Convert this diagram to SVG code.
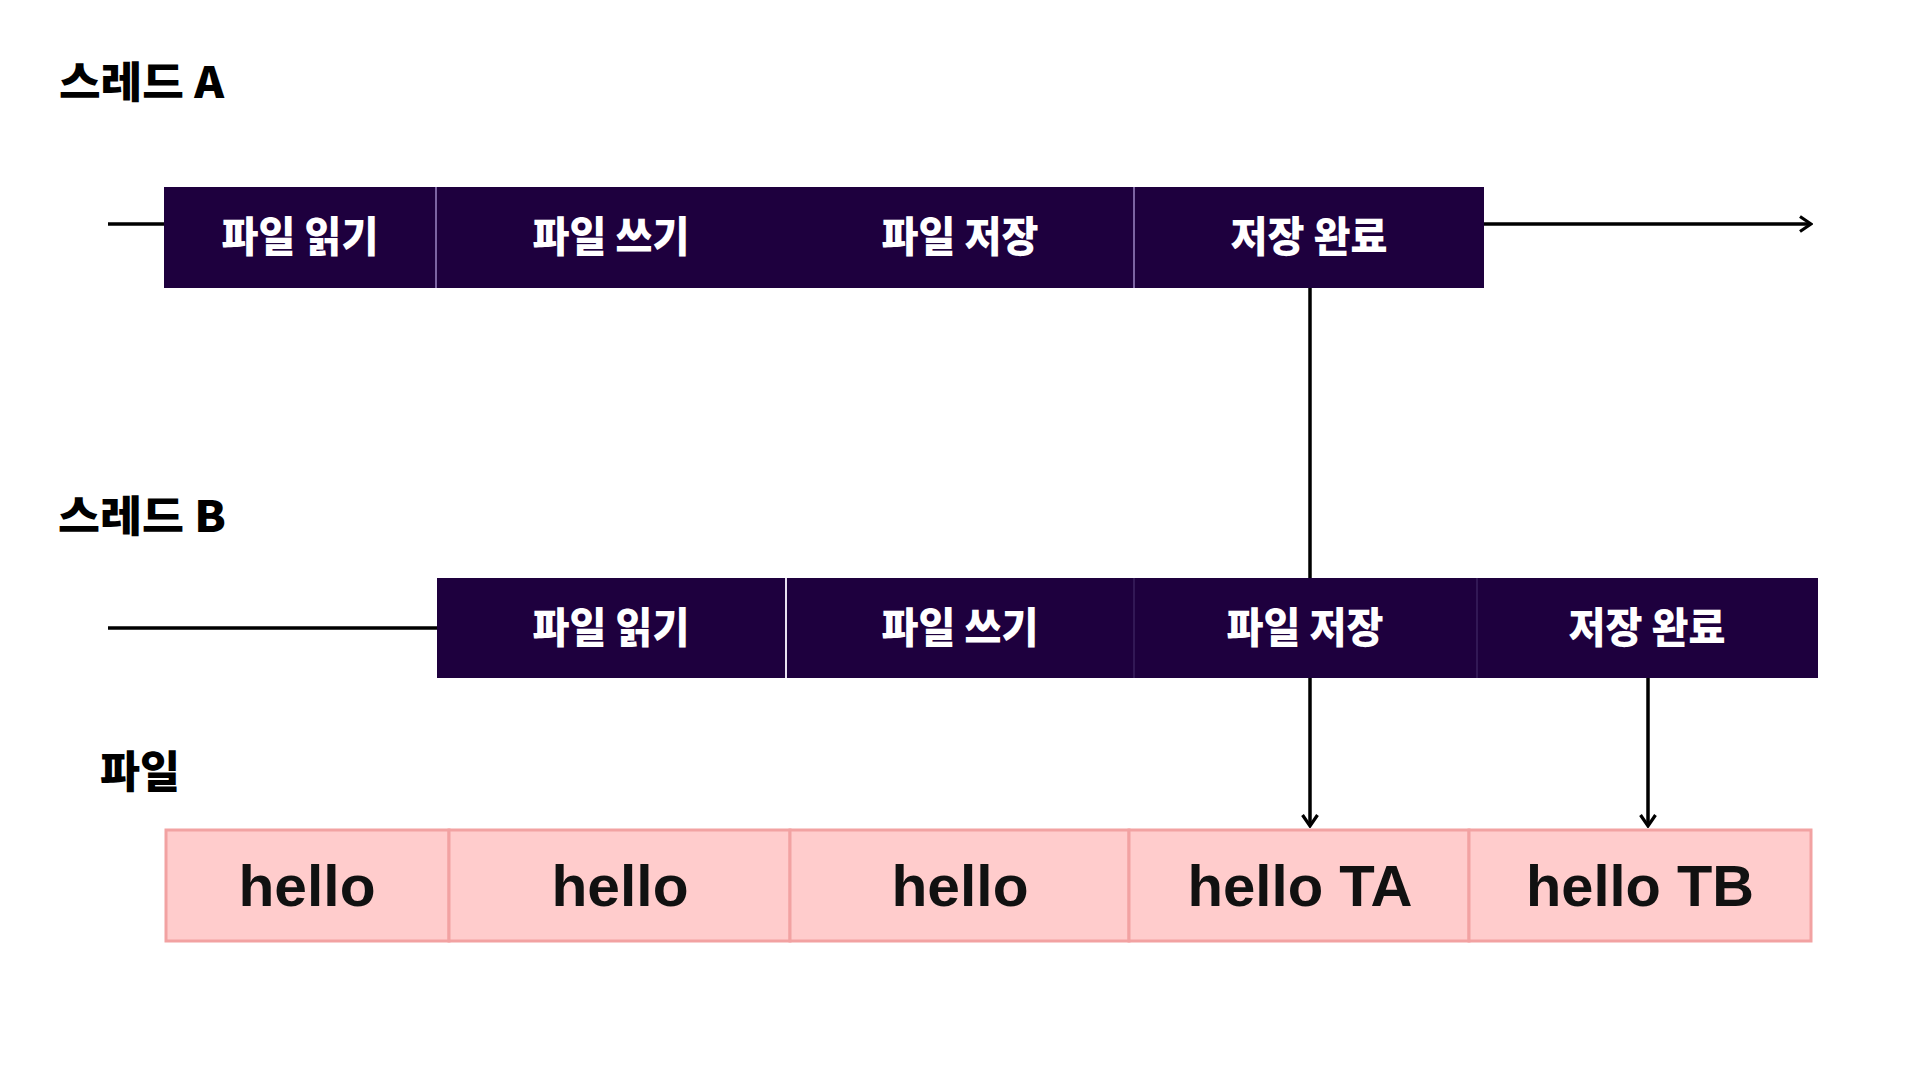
<svg xmlns="http://www.w3.org/2000/svg" width="1920" height="1080" viewBox="0 0 1920 1080">
<style>
.bg{fill:#ffffff}
.head{font-family:"Noto Sans CJK KR","Liberation Sans",sans-serif;font-weight:900;font-size:43px;fill:#000}
.cell{fill:#1e003e}
.lbl{font-family:"Noto Sans CJK KR","Liberation Sans",sans-serif;font-weight:900;font-size:42px;fill:#ffffff;text-anchor:middle}
.div1{stroke:#9c86c4;stroke-width:1.5}
.div2{stroke:#e8e0f0;stroke-width:2}
.div3{stroke:#46306c;stroke-width:1}
.pink{fill:#ffcccc;stroke:#f2a2a2;stroke-width:3}
.hello{font-family:"Liberation Sans",Arial,sans-serif;font-weight:700;font-size:57px;fill:#111;text-anchor:middle}
.line{stroke:#000;stroke-width:3.5;fill:none}
</style>
<defs>
<marker id="arr" markerUnits="userSpaceOnUse" viewBox="-14 -10 16 20" refX="0" refY="0" markerWidth="16" markerHeight="20" orient="auto">
<path d="M-11,-7.5 L0,0 L-11,7.5" fill="none" stroke="#000" stroke-width="3.2" stroke-linejoin="miter"/>
</marker>
</defs>
<rect class="bg" x="0" y="0" width="1920" height="1080"/>

<g id="connectors">
<line class="line" x1="108" y1="224" x2="166" y2="224"/>
<line class="line" x1="1484" y1="224" x2="1811" y2="224" marker-end="url(#arr)"/>
<line class="line" x1="108" y1="628" x2="439" y2="628"/>
<line class="line" x1="1310" y1="288" x2="1310" y2="826" marker-end="url(#arr)"/>
<line class="line" x1="1648" y1="678" x2="1648" y2="826" marker-end="url(#arr)"/>
</g>

<g id="label-thread-a"><text class="head" x="59" y="98" textLength="165" lengthAdjust="spacingAndGlyphs">스레드 A</text></g>
<g id="label-thread-b"><text class="head" x="58" y="532" textLength="168" lengthAdjust="spacingAndGlyphs">스레드 B</text></g>
<g id="label-file"><text class="head" x="100" y="788" textLength="80" lengthAdjust="spacingAndGlyphs" style="font-size:44px">파일</text></g>

<g id="thread-a">
<g id="a-read"><rect class="cell" x="164" y="187" width="272" height="101"/><text class="lbl" x="300" y="252" textLength="157" lengthAdjust="spacingAndGlyphs">파일 읽기</text></g>
<g id="a-write"><rect class="cell" x="436" y="187" width="350" height="101"/><text class="lbl" x="611" y="252" textLength="157" lengthAdjust="spacingAndGlyphs">파일 쓰기</text></g>
<g id="a-save"><rect class="cell" x="785" y="187" width="349" height="101"/><text class="lbl" x="960" y="252" textLength="157" lengthAdjust="spacingAndGlyphs">파일 저장</text></g>
<g id="a-done"><rect class="cell" x="1134" y="187" width="350" height="101"/><text class="lbl" x="1309" y="252" textLength="157" lengthAdjust="spacingAndGlyphs">저장 완료</text></g>
<line class="div1" x1="436" y1="187" x2="436" y2="288"/>
<line class="div1" x1="1134" y1="187" x2="1134" y2="288"/>
</g>

<g id="thread-b">
<g id="b-read"><rect class="cell" x="437" y="578" width="349" height="100"/><text class="lbl" x="611" y="643" textLength="157" lengthAdjust="spacingAndGlyphs">파일 읽기</text></g>
<g id="b-write"><rect class="cell" x="785" y="578" width="349" height="100"/><text class="lbl" x="960" y="643" textLength="157" lengthAdjust="spacingAndGlyphs">파일 쓰기</text></g>
<g id="b-save"><rect class="cell" x="1134" y="578" width="343" height="100"/><text class="lbl" x="1305" y="643" textLength="157" lengthAdjust="spacingAndGlyphs">파일 저장</text></g>
<g id="b-done"><rect class="cell" x="1477" y="578" width="341" height="100"/><text class="lbl" x="1647" y="643" textLength="157" lengthAdjust="spacingAndGlyphs">저장 완료</text></g>
<line class="div2" x1="786" y1="578" x2="786" y2="678"/>
<line class="div3" x1="1134" y1="578" x2="1134" y2="678"/>
<line class="div3" x1="1477" y1="578" x2="1477" y2="678"/>
</g>

<g id="file">
<g id="f1"><rect class="pink" x="166" y="830" width="283" height="111"/><text class="hello" x="307" y="906" textLength="137" lengthAdjust="spacingAndGlyphs">hello</text></g>
<g id="f2"><rect class="pink" x="449" y="830" width="341" height="111"/><text class="hello" x="620" y="906" textLength="137" lengthAdjust="spacingAndGlyphs">hello</text></g>
<g id="f3"><rect class="pink" x="790" y="830" width="339" height="111"/><text class="hello" x="960" y="906" textLength="137" lengthAdjust="spacingAndGlyphs">hello</text></g>
<g id="f4"><rect class="pink" x="1129" y="830" width="340" height="111"/><text class="hello" x="1300" y="906" textLength="225" lengthAdjust="spacingAndGlyphs">hello TA</text></g>
<g id="f5"><rect class="pink" x="1469" y="830" width="342" height="111"/><text class="hello" x="1640" y="906" textLength="228" lengthAdjust="spacingAndGlyphs">hello TB</text></g>
</g>
</svg>
